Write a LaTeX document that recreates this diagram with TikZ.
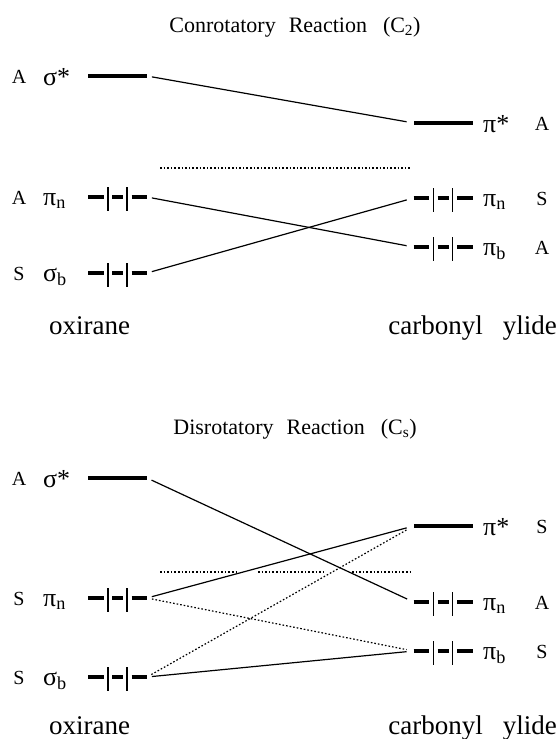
\documentclass[tikz,border=0pt]{standalone}
\usepackage{fontspec}
\setmainfont{Liberation Serif}
\tikzset{
  conn/.style={line width=1.2pt, shorten <=5pt, shorten >=7pt},
  dotconn/.style={conn, dash pattern=on 1.6pt off 2.0pt},
  hdots/.style={line width=1.1pt, dash pattern=on 1.6pt off 2.0pt},
  elvl/.style={fill=black, minimum width=59pt, minimum height=3.2pt, inner sep=0pt, outer sep=0pt},
  olvl/.style={minimum width=59pt, minimum height=3.2pt, inner sep=0pt, outer sep=0pt},
  seg/.style={line width=3.2pt},
  tickline/.style={line width=1.2pt},
  symlab/.style={font=\fontsize{20}{22}\selectfont, anchor=base, inner sep=0pt},
  orblab/.style={font=\fontsize{26}{28}\selectfont, anchor=base west, inner sep=0pt},
  ttl/.style={font=\fontsize{22}{24}\selectfont, anchor=base, inner sep=0pt},
  mol/.style={font=\fontsize{27}{30}\selectfont, inner sep=0pt},
}
\newcommand\occlvl[3]{%
  \node[olvl] (#1) at (#2,#3) {};
  \draw[seg] ([xshift=-29.5pt]#1.center) -- ([xshift=-14pt]#1.center);
  \draw[seg] ([xshift=-5.5pt]#1.center) -- ([xshift=5.5pt]#1.center);
  \draw[seg] ([xshift=14pt]#1.center) -- ([xshift=29.5pt]#1.center);
  \draw[tickline] ([xshift=-9.5pt,yshift=10pt]#1.center) -- ([xshift=-9.5pt,yshift=-14pt]#1.center);
  \draw[tickline] ([xshift=9.5pt,yshift=10pt]#1.center) -- ([xshift=9.5pt,yshift=-14pt]#1.center);
}
\begin{document}
\begin{tikzpicture}[x=1pt,y=-1pt]
\useasboundingbox (0,0) rectangle (559,739);

% ---------------- Conrotatory ----------------
\node[ttl] (t1) at (295,32) {Conrotatory\hspace{13pt}Reaction\hspace{16pt}(C\textsubscript{2})};

\node[elvl] (LsigT) at (117.5,76) {};
\occlvl{LpinT}{117.5}{197}
\occlvl{LsigbT}{117.5}{273}
\node[elvl] (RpistT) at (443,123) {};
\occlvl{RpinT}{443}{198}
\occlvl{RpibT}{443}{247}

\node[symlab] (a1) at (19,83) {A};
\node[symlab] (a2) at (19,204) {A};
\node[symlab] (a3) at (19,280) {S};
\node[orblab] (o1) at (43,85) {σ*};
\node[orblab] (o2) at (43,205) {π\textsubscript{n}};
\node[orblab] (o3) at (43,281) {σ\textsubscript{b}};
\node[orblab] (o4) at (483,132) {π*};
\node[orblab] (o5) at (483,206) {π\textsubscript{n}};
\node[orblab] (o6) at (483,255) {π\textsubscript{b}};
\node[symlab] (a4) at (542,130) {A};
\node[symlab] (a5) at (542,205) {S};
\node[symlab] (a6) at (542,254) {A};

\coordinate (dT1) at (160,168);
\coordinate (dT2) at (410,168);
\draw[hdots] (dT1) -- (dT2);

\draw[conn] (LsigT.east) -- (RpistT.west);
\draw[conn] (LpinT.east) -- (RpibT.west);
\draw[conn] (LsigbT.east) -- (RpinT.west);

\node[mol, anchor=base west] (ox1) at (49,334) {oxirane};
\node[mol, anchor=base east] (cy1) at (557,334) {carbonyl\hspace{20pt}ylide};

% ---------------- Disrotatory ----------------
\node[ttl] (t2) at (295,434) {Disrotatory\hspace{13pt}Reaction\hspace{16pt}(C\textsubscript{s})};

\node[elvl] (LsigB) at (117.5,478) {};
\occlvl{LpinB}{117.5}{598}
\occlvl{LsigbB}{117.5}{677}
\node[elvl] (RpistB) at (443,526) {};
\occlvl{RpinB}{443}{602}
\occlvl{RpibB}{443}{651}

\node[symlab] (b1) at (19,485) {A};
\node[symlab] (b2) at (19,605) {S};
\node[symlab] (b3) at (19,684) {S};
\node[orblab] (p1) at (43,487) {σ*};
\node[orblab] (p2) at (43,606) {π\textsubscript{n}};
\node[orblab] (p3) at (43,685) {σ\textsubscript{b}};
\node[orblab] (p4) at (483,535) {π*};
\node[orblab] (p5) at (483,610) {π\textsubscript{n}};
\node[orblab] (p6) at (483,659) {π\textsubscript{b}};
\node[symlab] (b4) at (542,533) {S};
\node[symlab] (b5) at (542,609) {A};
\node[symlab] (b6) at (542,658) {S};

\coordinate (dB1) at (160,572);
\coordinate (dB2) at (238,572);
\coordinate (dB3) at (258,572);
\coordinate (dB4) at (326,572);
\coordinate (dB5) at (352,572);
\coordinate (dB6) at (410,572);
\draw[hdots] (dB1) -- (dB2);
\draw[hdots] (dB3) -- (dB4);
\draw[hdots] (dB5) -- (dB6);

\draw[conn] (LsigB.east) -- (RpinB.west);
\draw[conn] (LpinB.east) -- (RpistB.west);
\draw[dotconn] (LpinB.east) -- (RpibB.west);
\draw[dotconn] (LsigbB.east) -- (RpistB.west);
\draw[conn] (LsigbB.east) -- (RpibB.west);

\node[mol, anchor=base west] (ox2) at (49,734) {oxirane};
\node[mol, anchor=base east] (cy2) at (557,734) {carbonyl\hspace{20pt}ylide};
\end{tikzpicture}
\end{document}
